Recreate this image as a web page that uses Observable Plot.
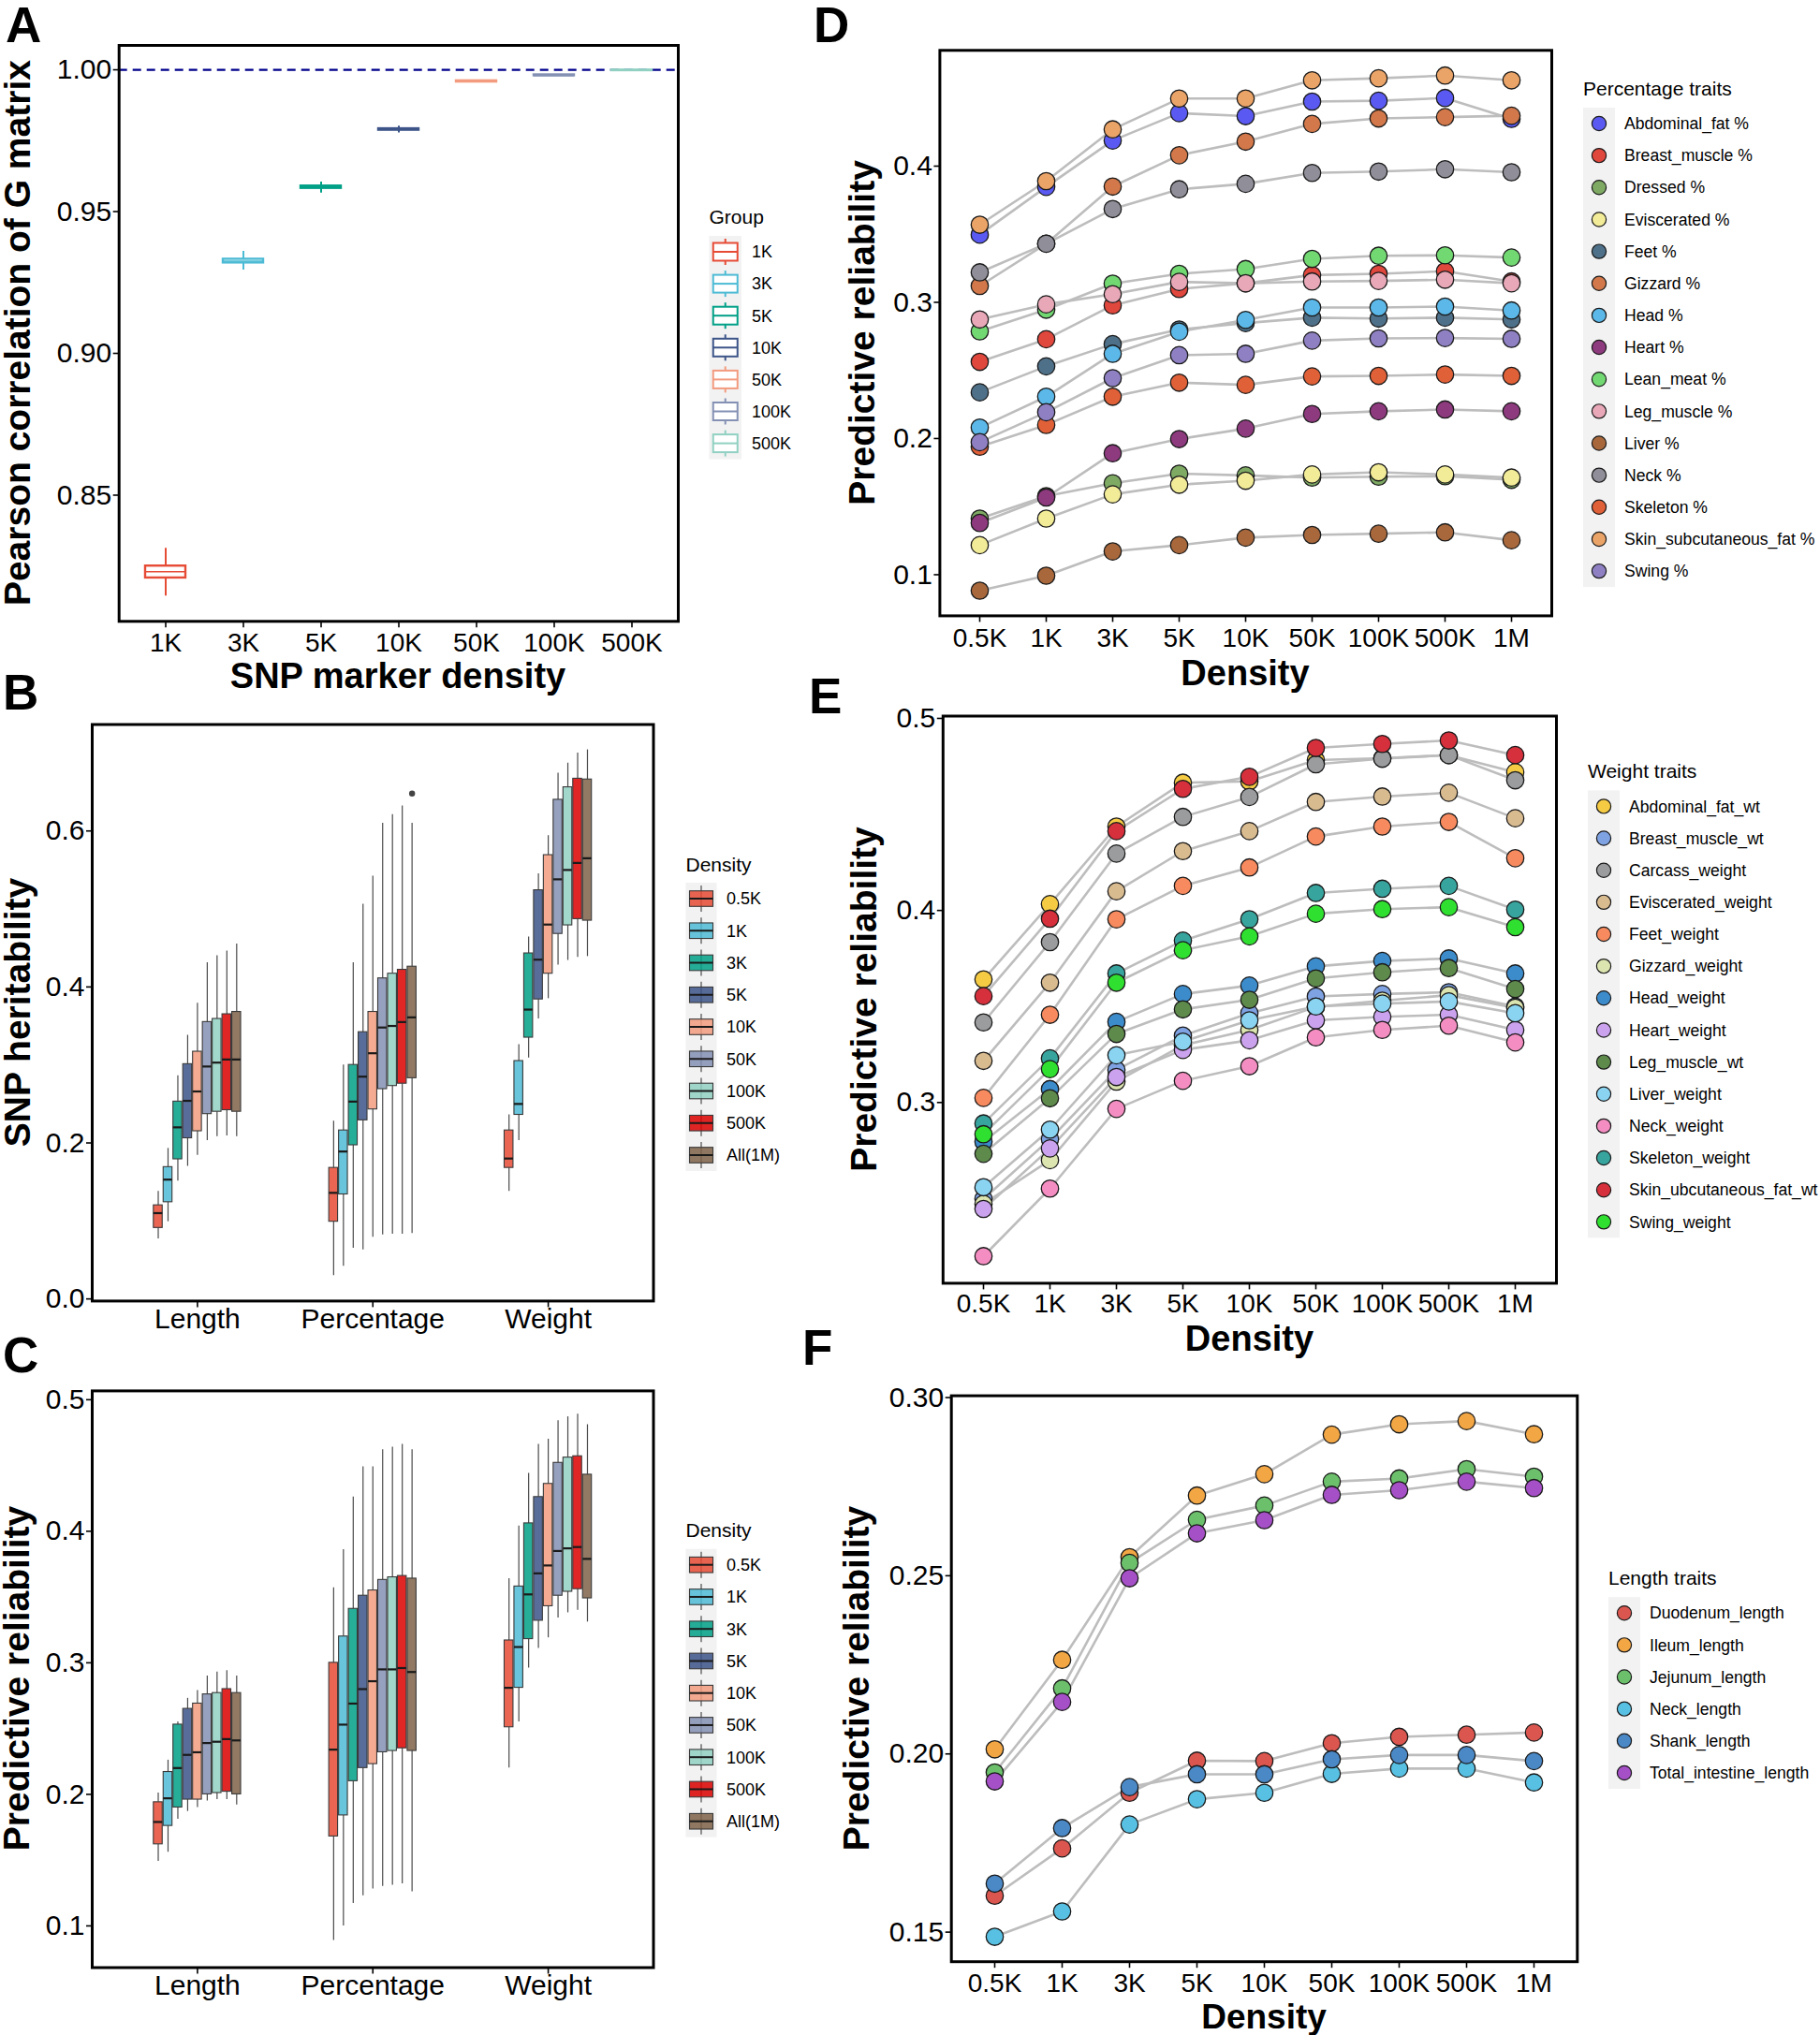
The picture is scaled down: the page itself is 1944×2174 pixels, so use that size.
<!DOCTYPE html>
<html><head><meta charset="utf-8">
<script src="https://cdn.jsdelivr.net/npm/d3@7"></script>
<script src="https://cdn.jsdelivr.net/npm/@observablehq/plot@0.6"></script>
<style>
html,body{margin:0;padding:0;background:#fff;overflow:hidden;}
#page{position:relative;width:1944px;height:2174px;background:#fff;}
#page svg g[aria-label$="tick"]{stroke-width:1.6;}
#page svg.xsmall g[aria-label="x-axis tick label"],
#page svg.xsmall g[aria-label="x-axis tick label"] text,
#page svg.xsmall g[aria-label="x-axis"] text{font-size:28px;}
</style></head>
<body><div id="page"></div>
<script>
// ---------------- DATA ----------------
// Panel A: Pearson correlation of G matrix
const gGroups = ["1K","3K","5K","10K","50K","100K","500K"];
const gColors = ["#E64B35","#4DBBD5","#00A087","#3C5488","#F39B7F","#8491B4","#91D1C2"];
const gMin = [0.8144,0.9294,0.9565,0.9777,0.9954,0.9977,0.9996];
const gQ1  = [0.8208,0.9319,0.9582,0.9787,0.9957,0.9979,0.9997];
const gMed = [0.8230,0.9325,0.9586,0.9790,0.9959,0.9980,0.9998];
const gQ3  = [0.8250,0.9332,0.9590,0.9792,0.9961,0.9982,0.9999];
const gMax = [0.8313,0.9360,0.9604,0.9801,0.9964,0.9984,1.0001];
const gTicks = [0.85,0.90,0.95,1.00];

// Panels B & C: box statistics [Length, Percentage, Weight][density]
const traitGroups = ["Length","Percentage","Weight"];
const densityLevels = ["0.5K","1K","3K","5K","10K","50K","100K","500K","All(1M)"];
const densityColors = ["#E64B35","#4DBBD5","#00A087","#3C5488","#F39B7F","#8491B4","#91D1C2","#DC0000","#7E6148"];

const h2Low  = [[0.077,0.099,0.151,0.170,0.184,0.203,0.208,0.209,0.208],
                [0.030,0.042,0.065,0.063,0.079,0.082,0.083,0.083,0.084],
                [0.138,0.203,0.309,0.359,0.385,0.428,0.434,0.438,0.439]];
const h2Q1   = [[0.091,0.124,0.179,0.206,0.215,0.237,0.240,0.242,0.240],
                [0.099,0.134,0.197,0.229,0.243,0.269,0.273,0.276,0.283],
                [0.168,0.236,0.335,0.384,0.417,0.468,0.479,0.487,0.485]];
const h2Med  = [[0.110,0.153,0.220,0.254,0.266,0.298,0.303,0.307,0.307],
                [0.136,0.189,0.253,0.285,0.315,0.348,0.350,0.355,0.361],
                [0.180,0.250,0.371,0.435,0.480,0.538,0.550,0.559,0.565]];
const h2Q3   = [[0.120,0.169,0.253,0.301,0.317,0.355,0.359,0.365,0.368],
                [0.168,0.216,0.300,0.342,0.368,0.411,0.417,0.422,0.426],
                [0.216,0.305,0.443,0.524,0.569,0.640,0.656,0.667,0.666]];
const h2High = [[0.138,0.193,0.286,0.338,0.379,0.431,0.440,0.446,0.455],
                [0.228,0.300,0.431,0.506,0.542,0.610,0.621,0.632,0.610],
                [0.236,0.326,0.464,0.545,0.594,0.674,0.687,0.700,0.704]];
const h2Outliers = [{group:"Percentage", density:"All(1M)", value:0.648}];
const h2Ticks = [0.0,0.2,0.4,0.6];

const rLow  = [[0.149,0.156,0.181,0.187,0.190,0.195,0.196,0.196,0.192],
               [0.089,0.100,0.117,0.123,0.128,0.130,0.131,0.132,0.126],
               [0.220,0.255,0.296,0.311,0.319,0.334,0.338,0.340,0.331]];
const rQ1   = [[0.162,0.176,0.190,0.196,0.196,0.200,0.201,0.202,0.200],
               [0.168,0.184,0.210,0.220,0.223,0.232,0.233,0.235,0.233],
               [0.251,0.281,0.318,0.332,0.343,0.351,0.354,0.356,0.349]];
const rMed  = [[0.179,0.197,0.220,0.230,0.232,0.239,0.240,0.242,0.241],
               [0.234,0.253,0.269,0.280,0.286,0.295,0.295,0.296,0.293],
               [0.281,0.312,0.352,0.368,0.374,0.385,0.387,0.388,0.379]];
const rQ3   = [[0.194,0.217,0.253,0.265,0.269,0.276,0.277,0.280,0.277],
               [0.300,0.320,0.341,0.351,0.355,0.363,0.365,0.366,0.364],
               [0.317,0.358,0.406,0.426,0.436,0.452,0.456,0.457,0.443]];
const rHigh = [[0.201,0.226,0.255,0.273,0.279,0.290,0.293,0.294,0.290],
               [0.357,0.386,0.426,0.449,0.449,0.462,0.464,0.466,0.462],
               [0.364,0.404,0.444,0.466,0.470,0.484,0.487,0.489,0.481]];
const rTicks = [0.1,0.2,0.3,0.4,0.5];

// Panels D, E, F: predictive reliability by density
const densities = ["0.5K","1K","3K","5K","10K","50K","100K","500K","1M"];

const pctTraits = ["Abdominal_fat %","Breast_muscle %","Dressed %","Eviscerated %","Feet %","Gizzard %","Head %","Heart %","Lean_meat %","Leg_muscle %","Liver %","Neck %","Skeleton %","Skin_subcutaneous_fat %","Swing %"];
const pctColors = ["#5A5AF2","#E0473D","#7EAA64","#F2EC98","#4E7088","#D2784A","#5BB8E8","#8E3A7E","#72D872","#E8A8B8","#A8683C","#908E98","#E06038","#EBA468","#8E80C2"];
const pctValues = [
  [0.3497,0.3848,0.4188,0.4389,0.4367,0.4474,0.4480,0.4500,0.4347],
  [0.2563,0.2729,0.2978,0.3098,0.3140,0.3200,0.3209,0.3228,0.3153],
  [0.1412,0.1577,0.1671,0.1742,0.1729,0.1713,0.1720,0.1723,0.1697],
  [0.1217,0.1412,0.1590,0.1661,0.1690,0.1736,0.1752,0.1736,0.1713],
  [0.2339,0.2530,0.2693,0.2800,0.2848,0.2887,0.2881,0.2887,0.2874],
  [0.3120,0.3430,0.3850,0.4080,0.4180,0.4310,0.4350,0.4360,0.4370],
  [0.2080,0.2307,0.2622,0.2784,0.2871,0.2962,0.2962,0.2969,0.2940],
  [0.1380,0.1567,0.1892,0.1996,0.2073,0.2180,0.2200,0.2213,0.2200],
  [0.2787,0.2946,0.3137,0.3209,0.3244,0.3319,0.3342,0.3345,0.3329],
  [0.2874,0.2985,0.3060,0.3150,0.3140,0.3153,0.3157,0.3166,0.3140],
  [0.0883,0.0993,0.1171,0.1217,0.1272,0.1292,0.1301,0.1311,0.1253],
  [0.3220,0.3430,0.3685,0.3830,0.3870,0.3950,0.3960,0.3977,0.3955],
  [0.1940,0.2100,0.2307,0.2410,0.2394,0.2456,0.2460,0.2470,0.2460],
  [0.3570,0.3890,0.4270,0.4496,0.4496,0.4630,0.4645,0.4665,0.4630],
  [0.1973,0.2193,0.2443,0.2612,0.2622,0.2719,0.2735,0.2738,0.2732]
];
const pctTicks = [0.1,0.2,0.3,0.4];

const wtTraits = ["Abdominal_fat_wt","Breast_muscle_wt","Carcass_weight","Eviscerated_weight","Feet_weight","Gizzard_weight","Head_weight","Heart_weight","Leg_muscle_wt","Liver_weight","Neck_weight","Skeleton_weight","Skin_ubcutaneous_fat_wt","Swing_weight"];
const wtColors = ["#F6CB44","#7FA2E2","#9A9C9E","#D9BB90","#F78A5E","#DCE4B0","#3C8BCB","#CBA2EE","#5E8A4C","#8AD4F2","#F48EC2","#38A49E","#D5303C","#30E030"];
const wtValues = [
  [0.3641,0.4033,0.4437,0.4665,0.4672,0.4783,0.4793,0.4809,0.4720],
  [0.2498,0.2809,0.3170,0.3348,0.3465,0.3552,0.3565,0.3574,0.3500],
  [0.3417,0.3835,0.4296,0.4487,0.4591,0.4761,0.4790,0.4809,0.4678],
  [0.3217,0.3624,0.4100,0.4309,0.4413,0.4565,0.4593,0.4613,0.4480],
  [0.3024,0.3457,0.3954,0.4128,0.4224,0.4385,0.4437,0.4461,0.4272],
  [0.2472,0.2700,0.3109,0.3298,0.3378,0.3498,0.3530,0.3559,0.3493],
  [0.2796,0.3070,0.3420,0.3565,0.3609,0.3709,0.3737,0.3750,0.3672],
  [0.2446,0.2761,0.3133,0.3274,0.3324,0.3428,0.3446,0.3457,0.3378],
  [0.2733,0.3022,0.3357,0.3485,0.3535,0.3646,0.3678,0.3700,0.3591],
  [0.2559,0.2859,0.3246,0.3317,0.3428,0.3500,0.3515,0.3526,0.3465],
  [0.2200,0.2552,0.2967,0.3113,0.3189,0.3339,0.3378,0.3400,0.3313],
  [0.2891,0.3230,0.3672,0.3843,0.3954,0.4091,0.4113,0.4128,0.4004],
  [0.3554,0.3957,0.4413,0.4633,0.4696,0.4846,0.4867,0.4885,0.4809],
  [0.2835,0.3174,0.3624,0.3793,0.3865,0.3983,0.4007,0.4017,0.3913]
];
const wtTicks = [0.3,0.4,0.5];

const lenTraits = ["Duodenum_length","Ileum_length","Jejunum_length","Neck_length","Shank_length","Total_intestine_length"];
const lenColors = ["#DC5650","#F2A644","#6CC06C","#58C0E2","#4A88C6","#A650C8"];
const lenValues = [
  [0.1602,0.1735,0.1891,0.1981,0.1980,0.2030,0.2048,0.2054,0.2060],
  [0.2013,0.2264,0.2552,0.2725,0.2785,0.2896,0.2925,0.2934,0.2897],
  [0.1948,0.2184,0.2536,0.2657,0.2697,0.2764,0.2773,0.2799,0.2778],
  [0.1487,0.1558,0.1802,0.1873,0.1891,0.1944,0.1959,0.1959,0.1920],
  [0.1636,0.1792,0.1907,0.1943,0.1943,0.1985,0.1997,0.1997,0.1980],
  [0.1923,0.2146,0.2493,0.2619,0.2656,0.2727,0.2740,0.2764,0.2746]
];
const lenTicks = [0.15,0.20,0.25,0.30];

// ---------------- LAYOUT ----------------
const FONT = "'Liberation Sans', Arial, Helvetica, sans-serif";
const PW = 1944, PH = 2174;
const page = document.getElementById("page");
const frames = {
  A:{l:126.7,r:724,t:48,b:663.3},
  B:{l:98,r:697.5,t:773.5,b:1389.4},
  C:{l:98,r:697.5,t:1485.4,b:2101.5},
  D:{l:1003.4,r:1657,t:53.3,b:657.4},
  E:{l:1006.8,r:1662,t:764.5,b:1370.4},
  F:{l:1015.7,r:1684.3,t:1490.6,b:2095.2}
};
function margins(f){return {marginLeft:f.l,marginRight:PW-f.r,marginTop:f.t,marginBottom:PH-f.b};}
const svgStyle = `background:transparent;font-family:${FONT};font-size:30px;color:#000;overflow:visible;max-width:none;position:absolute;left:0;top:0;`;
const frameMark = () => Plot.frame({stroke:"#000", strokeWidth:3});
function add(svg, small){ if(small) svg.classList.add("xsmall"); page.appendChild(svg); }

// ---------------- PANEL A ----------------
const aRows = gGroups.map((g,i)=>({group:g, lo:gMin[i], q1:gQ1[i], med:gMed[i], q3:gQ3[i], hi:gMax[i]}));
add(Plot.plot({
  width:PW, height:PH, ...margins(frames.A), style:svgStyle,
  x:{type:"band", domain:gGroups, paddingInner:0.48, paddingOuter:0.33, tickSize:7, tickPadding:5, label:null},
  y:{domain:[0.8055,1.0086], ticks:gTicks, tickFormat:d3.format(".2f"), tickSize:6, tickPadding:2, label:null},
  color:{domain:gGroups, range:gColors},
  marks:[
    Plot.ruleY([1.00],{stroke:"#00008B", strokeWidth:2.2, strokeDasharray:"9,6"}),
    Plot.ruleX(aRows,{x:"group", y1:"lo", y2:"q1", stroke:"group", strokeWidth:2}),
    Plot.ruleX(aRows,{x:"group", y1:"q3", y2:"hi", stroke:"group", strokeWidth:2}),
    Plot.barY(aRows,{x:"group", y1:"q1", y2:"q3", fill:"white", stroke:"group", strokeWidth:2.4}),
    Plot.tickY(aRows,{x:"group", y:"med", stroke:"group", strokeWidth:2.6}),
    frameMark()
  ]
}), true);

// ---------------- PANELS B & C ----------------
const dodgeStep = 0.0559, boxHalf = 0.0252;
function boxRows(lo,q1,med,q3,hi){
  const rows=[];
  traitGroups.forEach((g,gi)=>densityLevels.forEach((d,di)=>{
    const xc = gi + (di-4)*dodgeStep;
    rows.push({group:g, density:d, xc, x1:xc-boxHalf, x2:xc+boxHalf,
      lo:lo[gi][di], q1:q1[gi][di], med:med[gi][di], q3:q3[gi][di], hi:hi[gi][di]});
  }));
  return rows;
}
function boxPlot(frame, rows, yDomain, yTicks, outliers){
  const out = (outliers||[]).map(o=>({...o, xc: traitGroups.indexOf(o.group) + (densityLevels.indexOf(o.density)-4)*dodgeStep}));
  return Plot.plot({
    width:PW, height:PH, ...margins(frame), style:svgStyle,
    x:{domain:[-0.6,2.6], ticks:[0,1,2], tickFormat:i=>traitGroups[i], tickSize:7, tickPadding:1, label:null},
    y:{domain:yDomain, ticks:yTicks, tickFormat:d3.format(".1f"), tickSize:6, tickPadding:2, label:null},
    color:{domain:densityLevels, range:densityColors},
    marks:[
      Plot.ruleX(rows,{x:"xc", y1:"lo", y2:"q1", stroke:"#4a4a4a", strokeWidth:1.2}),
      Plot.ruleX(rows,{x:"xc", y1:"q3", y2:"hi", stroke:"#4a4a4a", strokeWidth:1.2}),
      Plot.rect(rows,{x1:"x1", x2:"x2", y1:"q1", y2:"q3", fill:"density", fillOpacity:0.85, stroke:"#3a3a3a", strokeWidth:1.1}),
      Plot.ruleY(rows,{x1:"x1", x2:"x2", y:"med", stroke:"#1a1a1a", strokeWidth:2.2}),
      Plot.dot(out,{x:"xc", y:"value", r:3.2, fill:"#444", stroke:"none"}),
      frameMark()
    ]
  });
}
add(boxPlot(frames.B, boxRows(h2Low,h2Q1,h2Med,h2Q3,h2High), [-0.0027,0.7365], h2Ticks, h2Outliers), false);
add(boxPlot(frames.C, boxRows(rLow,rQ1,rMed,rQ3,rHigh), [0.0683,0.5067], rTicks, []), false);

// ---------------- PANELS D, E, F ----------------
function lineRows(traits, values){
  const rows=[];
  traits.forEach((t,ti)=>densities.forEach((d,di)=>rows.push({trait:t, density:d, value:values[ti][di]})));
  return rows;
}
function linePlot(frame, traits, colors, values, yDomain, yTicks, fmt, tickPad){
  const rows = lineRows(traits, values);
  return Plot.plot({
    width:PW, height:PH, ...margins(frame), style:svgStyle,
    x:{type:"point", domain:densities, padding:0.6, tickSize:7, tickPadding:tickPad, label:null},
    y:{domain:yDomain, ticks:yTicks, tickFormat:d3.format(fmt), tickSize:6, tickPadding:2, label:null},
    color:{domain:traits, range:colors},
    marks:[
      Plot.line(rows,{x:"density", y:"value", z:"trait", stroke:"#BDBDBD", strokeWidth:2.6}),
      Plot.dot(rows,{x:"density", y:"value", fill:"trait", stroke:"#1a1a1a", strokeWidth:1.3, r:9.2}),
      frameMark()
    ]
  });
}
add(linePlot(frames.D, pctTraits, pctColors, pctValues, [0.0698,0.485], pctTicks, ".1f", 6), true);
add(linePlot(frames.E, wtTraits, wtColors, wtValues, [0.2059,0.5012], wtTicks, ".1f", 4), true);
add(linePlot(frames.F, lenTraits, lenColors, lenValues, [0.1417,0.3005], lenTicks, ".2f", 5), true);

// ---------------- OVERLAY: letters, titles, legends ----------------
const ov = d3.select("#page").append("svg")
  .attr("width",PW).attr("height",PH)
  .attr("style",`position:absolute;left:0;top:0;font-family:${FONT};overflow:visible;`);
function txt(x,y,s,o={}){
  const t = ov.append("text").attr("x",x).attr("y",y).text(s)
    .attr("font-size",o.size||18).attr("fill","#000")
    .attr("text-anchor",o.anchor||"start");
  if(o.bold) t.attr("font-weight","bold");
  if(o.rotate) t.attr("transform",`rotate(-90,${x},${y})`);
  if(o.dy) t.attr("dy",o.dy);
  return t;
}
// panel letters
[["A",6,45],["B",3,758],["C",3,1466],["D",869,45],["E",864,762],["F",857,1458]]
  .forEach(([s,x,y])=>txt(x,y,s,{size:53,bold:true}));
// axis titles
const T = 39;
txt(425,735,"SNP marker density",{size:38,bold:true,anchor:"middle"});
txt(32,355.6,"Pearson correlation of G matrix",{size:T,bold:true,anchor:"middle",rotate:true});
txt(32,1081.5,"SNP heritability",{size:T,bold:true,anchor:"middle",rotate:true});
txt(31,1793,"Predictive reliability",{size:T,bold:true,anchor:"middle",rotate:true});
txt(934,355.4,"Predictive reliability",{size:T,bold:true,anchor:"middle",rotate:true});
txt(1330,731.5,"Density",{size:38,bold:true,anchor:"middle"});
txt(936,1067.5,"Predictive reliability",{size:T,bold:true,anchor:"middle",rotate:true});
txt(1334.5,1442.5,"Density",{size:38,bold:true,anchor:"middle"});
txt(928,1793,"Predictive reliability",{size:T,bold:true,anchor:"middle",rotate:true});
txt(1350,2167,"Density",{size:37,bold:true,anchor:"middle"});

const KEYBG = "#F2F2F2";
// Legend A (hollow boxplot keys)
(function(){
  const x0=757.5, w=34.5, y0=269, step=34.1, cx=x0+w/2;
  txt(x0,238.5,"Group",{size:21});
  ov.append("rect").attr("x",x0).attr("y",y0-17).attr("width",w).attr("height",step*(gGroups.length-1)+34).attr("fill",KEYBG);
  gGroups.forEach((g,i)=>{
    const y=y0+i*step, c=gColors[i];
    ov.append("line").attr("x1",cx).attr("x2",cx).attr("y1",y-14).attr("y2",y+14).attr("stroke",c).attr("stroke-width",2);
    ov.append("rect").attr("x",cx-13).attr("y",y-9.5).attr("width",26).attr("height",19).attr("fill","#fff").attr("stroke",c).attr("stroke-width",2);
    ov.append("line").attr("x1",cx-13).attr("x2",cx+13).attr("y1",y).attr("y2",y).attr("stroke",c).attr("stroke-width",2);
    txt(803,y,g,{size:18,dy:"0.35em"});
  });
})();
// Legends B, C (filled boxplot keys)
function boxLegend(titleY, y0){
  const x0=732.5, w=33, step=34.25, cx=x0+w/2;
  txt(x0,titleY,"Density",{size:21});
  ov.append("rect").attr("x",x0).attr("y",y0-17).attr("width",w).attr("height",step*(densityLevels.length-1)+34).attr("fill",KEYBG);
  densityLevels.forEach((d,i)=>{
    const y=y0+i*step;
    ov.append("line").attr("x1",cx).attr("x2",cx).attr("y1",y-14).attr("y2",y+14).attr("stroke","#4a4a4a").attr("stroke-width",1.2);
    ov.append("rect").attr("x",cx-12.5).attr("y",y-8.3).attr("width",25).attr("height",16.6)
      .attr("fill",densityColors[i]).attr("fill-opacity",0.85).attr("stroke","#3a3a3a").attr("stroke-width",1.1);
    ov.append("line").attr("x1",cx-12.5).attr("x2",cx+12.5).attr("y1",y).attr("y2",y).attr("stroke","#1a1a1a").attr("stroke-width",2);
    txt(776,y,d,{size:18,dy:"0.35em"});
  });
}
boxLegend(930.5,960);
boxLegend(1641.8,1671.7);
// Legends D, E, F (point keys)
function dotLegend(title, x0, titleY, y0, traits, colors){
  const w=34, step=34.15, cx=x0+w/2;
  txt(x0,titleY,title,{size:21});
  ov.append("rect").attr("x",x0).attr("y",y0-17).attr("width",w).attr("height",step*(traits.length-1)+34).attr("fill",KEYBG);
  traits.forEach((t,i)=>{
    const y=y0+i*step;
    ov.append("circle").attr("cx",cx).attr("cy",y).attr("r",7.6).attr("fill",colors[i]).attr("stroke","#1a1a1a").attr("stroke-width",1.2);
    txt(x0+44,y,t,{size:17.6,dy:"0.35em"});
  });
}
dotLegend("Percentage traits",1691,102,132,pctTraits,pctColors);
dotLegend("Weight traits",1696,831,861.4,wtTraits,wtColors);
dotLegend("Length traits",1718,1693.3,1723.2,lenTraits,lenColors);
</script>
</body></html>
